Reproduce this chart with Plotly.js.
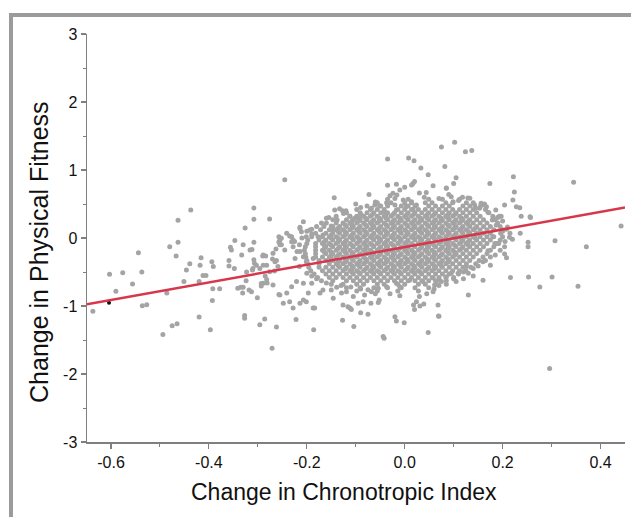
<!DOCTYPE html>
<html>
<head>
<meta charset="utf-8">
<script src="https://cdn.plot.ly/plotly-3.0.1.min.js"></script>
<style>
  html, body { margin: 0; padding: 0; background: #ffffff; }
  #wrap { position: relative; width: 631px; height: 517px; overflow: hidden; }
  #chart { position: absolute; left: 0; top: 0; width: 631px; height: 517px; }
  #frame { position: absolute; left: 9px; top: 13px; width: 700px; height: 600px;
           border-left: 4px solid #9b9b9b; border-top: 4px solid #9b9b9b; pointer-events: none; }
</style>
</head>
<body>
<div id="wrap"><div id="chart"></div><div id="frame"></div></div>
<script>
// ---- Data ----
const xTickVals = [-0.6, -0.4, -0.2, 0.0, 0.2, 0.4];
const xTickText = ["-0.6", "-0.4", "-0.2", "0.0", "0.2", "0.4"];
const yTickVals = [-3, -2, -1, 0, 1, 2, 3];
const yTickText = ["-3", "-2", "-1", "0", "1", "2", "3"];
const xTitle = "Change in Chronotropic Index";
const yTitle = "Change in Physical Fitness";

// Regression line end points
const fitX = [-0.649, 0.45];
const fitY = [-0.976, 0.45];

// Highlighted (black) point
const markX = [-0.604];
const markY = [-0.951];

// Scattered points read individually [x, y]
const leftPts = [[-0.637,-1.078],[-0.603,-0.534],[-0.59,-0.784],[-0.576,-0.51],[-0.556,-0.676],[-0.544,-0.216],[-0.537,-0.5],[-0.536,-0.995],[-0.527,-0.98],[-0.494,-1.42],[-0.486,-0.81],[-0.48,-0.128],[-0.475,-1.29],[-0.465,-1.26],[-0.467,-0.265],[-0.463,-0.063],[-0.463,0.26],[-0.437,0.41],[-0.451,-0.64],[-0.446,-0.47],[-0.439,-0.38],[-0.42,-1.16],[-0.42,-0.64],[-0.418,-0.4],[-0.416,-0.29],[-0.412,-0.55],[-0.406,-0.55],[-0.397,-1.35],[-0.394,-0.35],[-0.391,-0.42],[-0.392,-0.745],[-0.393,-0.92],[-0.378,-0.745],[-0.359,-0.33],[-0.359,-0.41],[-0.356,-0.137],[-0.354,-0.176],[-0.348,-0.45],[-0.347,-0.035],[-0.341,-0.74],[-0.335,-0.725],[-0.33,-0.725],[-0.331,-0.81],[-0.327,-1.14],[-0.327,-1.18],[-0.33,-0.1],[-0.333,-0.25],[-0.326,0.147],[-0.308,0.44],[-0.308,0.275],[-0.308,-0.064],[-0.316,-0.176],[-0.312,-0.17],[-0.308,-0.32],[-0.307,-0.37],[-0.31,-0.45],[-0.311,-0.47],[-0.323,-0.5],[-0.324,-0.63],[-0.318,-0.765],[-0.313,-0.79],[-0.301,-0.88],[-0.296,-1.275],[-0.286,-1.19],[-0.303,-0.4],[-0.296,-0.45],[-0.29,-0.265],[-0.284,-0.265],[-0.289,-0.4],[-0.293,-0.67],[-0.293,-0.705],[-0.285,-0.56],[-0.282,-0.61],[-0.281,-0.66],[-0.276,0.28],[-0.271,-1.62],[-0.269,-0.69],[-0.27,-0.31],[-0.263,-0.16],[-0.262,-0.33],[-0.257,0.02],[-0.257,-0.06],[-0.257,-0.83],[-0.262,-1.31],[-0.266,-0.485],[-0.245,0.857],[-0.207,0.24],[-0.214,0.14],[-0.241,0.07],[-0.255,-0.03],[-0.231,0.02],[-0.194,0.118],[-0.289,-0.666],[-0.276,-0.495],[-0.259,-0.42],[-0.265,-0.35],[-0.282,-0.4],[-0.289,-0.25],[-0.269,-0.226],[-0.252,-0.1],[-0.245,-0.176],[-0.228,-0.128],[-0.231,-0.054],[-0.214,-0.2],[-0.207,-0.275],[-0.224,-0.3],[-0.201,-0.35],[-0.187,-0.3]];

const upperPts = [[-0.035,1.16],[0.008,1.176],[0.019,1.137],[-0.144,0.593],[-0.073,0.64],[-0.035,0.775],[-0.017,0.79],[0.017,0.8],[0.02,0.83],[0.014,0.78],[0.0,0.745],[-0.024,0.657],[-0.016,0.632],[-0.02,0.58],[-0.01,0.706],[-0.133,0.43],[-0.143,0.41],[-0.127,0.4],[-0.16,0.29],[-0.138,0.265],[-0.15,0.176],[-0.148,0.118],[-0.136,0.118],[-0.19,0.128],[-0.214,0.157],[-0.211,0.093],[-0.235,0.03],[-0.252,-0.005],[-0.228,-0.03],[-0.255,-0.1],[-0.201,0.02],[-0.177,0.02],[-0.167,0.044],[-0.112,0.32],[-0.102,0.29],[-0.088,0.333],[-0.078,0.275],[-0.068,0.437],[-0.061,0.485],[-0.051,0.47],[-0.041,0.387],[-0.037,0.52],[-0.02,0.485],[-0.017,0.41],[-0.003,0.56],[0.003,0.46],[0.014,0.534],[0.017,0.42],[0.024,0.485]];

const rightPts = [[0.075,1.34],[0.102,1.407],[0.124,1.27],[0.137,1.285],[0.082,1.05],[0.033,1.03],[0.048,0.93],[0.058,0.77],[0.1,0.8],[0.105,0.887],[0.174,0.8],[0.222,0.9],[0.224,0.676],[0.345,0.82],[0.044,0.67],[0.085,0.73],[0.129,0.59],[0.156,0.51],[0.163,0.485],[0.153,0.437],[0.186,0.41],[0.192,0.313],[0.197,0.32],[0.204,0.485],[0.221,0.56],[0.228,0.46],[0.235,0.446],[0.256,0.313],[0.238,0.32],[0.208,0.128],[0.236,0.07],[0.214,0.01],[0.252,-0.064],[0.252,-0.128],[0.307,-0.04],[0.371,-0.128],[0.442,0.176],[0.204,-0.128],[0.192,-0.08],[0.18,0.02],[0.085,0.735],[0.095,0.607],[0.099,0.534],[0.133,0.584],[0.143,0.485],[0.163,0.5],[0.167,0.46],[0.194,0.32],[0.179,0.265],[0.187,0.19],[0.257,0.3],[0.208,-0.29],[0.204,-0.235],[0.216,-0.58],[0.253,-0.574],[0.301,-0.574],[0.276,-0.72],[0.354,-0.71],[0.16,-0.62],[0.13,-0.84],[0.15,-0.41],[0.184,-0.08],[0.17,-0.186],[0.126,-0.42],[0.109,-0.52],[0.105,-0.64],[0.068,-0.985],[0.07,-1.15],[0.048,-1.39],[0.02,-1.05],[0.031,-1.0],[0.039,-0.97],[0.058,-0.79],[0.061,-0.69],[0.075,-0.64],[0.085,-0.57],[0.095,-0.52],[0.16,-0.35],[0.14,-0.45],[0.175,-0.28],[0.12,-0.6],[0.13,-0.52]];

const lowerPts = [[0.296,-1.92],[-0.042,-1.475],[-0.044,-1.45],[-0.186,-1.35],[-0.127,-1.21],[-0.104,-1.3],[-0.02,-1.157],[-0.017,-1.22],[-0.001,-1.245],[0.069,-1.147],[0.018,-0.985],[0.024,-0.937],[-0.09,-1.1],[-0.075,-1.12],[-0.109,-1.05],[-0.069,-0.96],[-0.054,-0.95],[-0.052,-0.91],[-0.085,-0.937],[-0.095,-0.96],[-0.116,-1.01],[-0.126,-0.985],[-0.201,-0.937],[-0.187,-1.03],[-0.184,-1.03],[-0.15,-0.765],[-0.139,-0.725],[-0.129,-0.81],[-0.119,-0.79],[-0.105,-0.86],[-0.082,-0.84],[-0.068,-0.79],[-0.054,-0.74],[-0.037,-0.716],[-0.017,-0.666],[-0.01,-0.716],[0.01,-0.62],[0.037,-0.64],[0.058,-0.59],[0.071,-0.62],[-0.222,-1.2],[-0.112,-1.03],[-0.146,-0.887],[-0.207,-0.91],[-0.214,-0.96],[-0.228,-1.03],[-0.235,-0.937],[-0.248,-0.96],[-0.255,-0.84],[-0.241,-0.81],[-0.231,-0.716],[-0.221,-0.64],[-0.207,-0.666],[-0.197,-0.81],[-0.19,-0.666],[-0.173,-0.81],[-0.167,-0.765]];

// Points along the ragged rim of the dense cloud
const rimPts = [[-0.12,0.4],[-0.09,0.45],[-0.06,0.53],[0.04,0.6],[0.07,0.58],[0.11,0.55],[0.14,0.52],[0.17,0.38],[0.2,0.25],[0.21,0.16],[0.215,0.07],[0.2,0.1],[0.205,-0.05],[0.195,-0.18],[0.185,-0.25],[0.165,-0.33],[0.12,-0.5],[0.1,-0.6],[0.085,-0.68],[0.06,-0.75],[0.045,-0.82],[0.03,-0.86],[-0.01,-0.85],[-0.03,-0.82],[-0.06,-0.82],[-0.09,-0.75],[-0.11,-0.72],[-0.13,-0.7],[-0.16,-0.66],[-0.18,-0.6],[-0.2,-0.52],[-0.215,-0.42],[-0.22,-0.2],[-0.215,-0.1],[-0.21,0.0],[-0.19,0.06],[-0.18,0.17],[-0.17,0.22],[-0.155,0.3],[-0.125,0.36],[0.118,0.6],[0.145,0.44],[0.19,0.3],[0.22,-0.02],[0.175,-0.4],[0.14,-0.56],[0.07,-0.7],[-0.075,-0.76],[-0.19,-0.56],[-0.225,-0.05],[-0.2,0.1],[-0.1,0.5],[0.03,0.66],[-0.03,0.62],[0.09,0.64]];

// Dense central cloud, read row by row (y of the row, x positions along it)
const coreRowY = [0.57, 0.52, 0.47, 0.42, 0.37, 0.32, 0.27, 0.22, 0.17, 0.12, 0.07, 0.02, -0.03, -0.08, -0.13, -0.18, -0.23, -0.28, -0.33, -0.38, -0.43, -0.48, -0.53, -0.58, -0.63, -0.68, -0.73, -0.78];
const coreRowX = [
  [-0.035, 0.007, 0.049, 0.077, 0.112],
  [-0.056, -0.028, 0.0, 0.014, 0.042, 0.056, 0.084, 0.098, 0.126],
  [-0.077, -0.049, -0.035, -0.007, 0.007, 0.021, 0.049, 0.063, 0.077, 0.091, 0.119, 0.133, 0.155],
  [-0.098, -0.07, -0.056, -0.042, -0.014, 0.0, 0.014, 0.028, 0.042, 0.056, 0.07, 0.084, 0.098, 0.112, 0.126, 0.14, 0.165],
  [-0.119, -0.091, -0.077, -0.063, -0.049, -0.035, -0.021, -0.007, 0.007, 0.021, 0.035, 0.049, 0.063, 0.077, 0.091, 0.105, 0.119, 0.133, 0.147, 0.172],
  [-0.14, -0.112, -0.098, -0.084, -0.07, -0.056, -0.042, -0.028, -0.014, 0.0, 0.014, 0.028, 0.042, 0.056, 0.07, 0.084, 0.098, 0.112, 0.126, 0.14, 0.154, 0.18],
  [-0.147, -0.119, -0.105, -0.091, -0.077, -0.063, -0.049, -0.035, -0.021, -0.007, 0.007, 0.021, 0.035, 0.049, 0.063, 0.077, 0.091, 0.105, 0.119, 0.133, 0.147, 0.161, 0.185],
  [-0.16, -0.14, -0.126, -0.112, -0.098, -0.084, -0.07, -0.056, -0.042, -0.028, -0.014, 0.0, 0.014, 0.028, 0.042, 0.056, 0.07, 0.084, 0.098, 0.112, 0.126, 0.14, 0.154, 0.168, 0.19],
  [-0.165, -0.147, -0.133, -0.119, -0.105, -0.091, -0.077, -0.063, -0.049, -0.035, -0.021, -0.007, 0.007, 0.021, 0.035, 0.049, 0.063, 0.077, 0.091, 0.105, 0.119, 0.133, 0.147, 0.161, 0.175, 0.195],
  [-0.172, -0.154, -0.14, -0.126, -0.112, -0.098, -0.084, -0.07, -0.056, -0.042, -0.028, -0.014, 0.0, 0.014, 0.028, 0.042, 0.056, 0.07, 0.084, 0.098, 0.112, 0.126, 0.14, 0.154, 0.168, 0.182, 0.2],
  [-0.182, -0.161, -0.147, -0.133, -0.119, -0.105, -0.091, -0.077, -0.063, -0.049, -0.035, -0.021, -0.007, 0.007, 0.021, 0.035, 0.049, 0.063, 0.077, 0.091, 0.105, 0.119, 0.133, 0.147, 0.161, 0.175, 0.196],
  [-0.19, -0.168, -0.154, -0.14, -0.126, -0.112, -0.098, -0.084, -0.07, -0.056, -0.042, -0.028, -0.014, 0.0, 0.014, 0.028, 0.042, 0.056, 0.07, 0.084, 0.098, 0.112, 0.126, 0.14, 0.154, 0.168, 0.182, 0.2],
  [-0.198, -0.175, -0.161, -0.147, -0.133, -0.119, -0.105, -0.091, -0.077, -0.063, -0.049, -0.035, -0.021, -0.007, 0.007, 0.021, 0.035, 0.049, 0.063, 0.077, 0.091, 0.105, 0.119, 0.133, 0.147, 0.161, 0.175, 0.195],
  [-0.2, -0.182, -0.168, -0.154, -0.14, -0.126, -0.112, -0.098, -0.084, -0.07, -0.056, -0.042, -0.028, -0.014, 0.0, 0.014, 0.028, 0.042, 0.056, 0.07, 0.084, 0.098, 0.112, 0.126, 0.14, 0.154, 0.168, 0.188],
  [-0.203, -0.182, -0.161, -0.147, -0.133, -0.119, -0.105, -0.091, -0.077, -0.063, -0.049, -0.035, -0.021, -0.007, 0.007, 0.021, 0.035, 0.049, 0.063, 0.077, 0.091, 0.105, 0.119, 0.133, 0.147, 0.161, 0.182],
  [-0.205, -0.182, -0.168, -0.154, -0.14, -0.126, -0.112, -0.098, -0.084, -0.07, -0.056, -0.042, -0.028, -0.014, 0.0, 0.014, 0.028, 0.042, 0.056, 0.07, 0.084, 0.098, 0.112, 0.126, 0.14, 0.154, 0.175],
  [-0.203, -0.182, -0.161, -0.147, -0.133, -0.119, -0.105, -0.091, -0.077, -0.063, -0.049, -0.035, -0.021, -0.007, 0.007, 0.021, 0.035, 0.049, 0.063, 0.077, 0.091, 0.105, 0.119, 0.133, 0.147, 0.168],
  [-0.202, -0.182, -0.168, -0.154, -0.14, -0.126, -0.112, -0.098, -0.084, -0.07, -0.056, -0.042, -0.028, -0.014, 0.0, 0.014, 0.028, 0.042, 0.056, 0.07, 0.084, 0.098, 0.112, 0.126, 0.14, 0.16],
  [-0.2, -0.175, -0.161, -0.147, -0.133, -0.119, -0.105, -0.091, -0.077, -0.063, -0.049, -0.035, -0.021, -0.007, 0.007, 0.021, 0.035, 0.049, 0.063, 0.077, 0.091, 0.105, 0.119, 0.133, 0.152],
  [-0.198, -0.175, -0.154, -0.14, -0.126, -0.112, -0.098, -0.084, -0.07, -0.056, -0.042, -0.028, -0.014, 0.0, 0.014, 0.028, 0.042, 0.056, 0.07, 0.084, 0.098, 0.112, 0.126, 0.145],
  [-0.196, -0.175, -0.161, -0.147, -0.133, -0.119, -0.105, -0.091, -0.077, -0.063, -0.049, -0.035, -0.021, -0.007, 0.007, 0.021, 0.035, 0.049, 0.063, 0.077, 0.091, 0.105, 0.119, 0.135],
  [-0.192, -0.168, -0.154, -0.14, -0.126, -0.112, -0.098, -0.084, -0.07, -0.056, -0.042, -0.028, -0.014, 0.0, 0.014, 0.028, 0.042, 0.056, 0.07, 0.084, 0.098, 0.112, 0.125],
  [-0.185, -0.161, -0.147, -0.133, -0.119, -0.105, -0.091, -0.077, -0.063, -0.049, -0.035, -0.021, -0.007, 0.007, 0.021, 0.035, 0.049, 0.063, 0.077, 0.091, 0.11],
  [-0.178, -0.154, -0.14, -0.126, -0.112, -0.098, -0.084, -0.07, -0.056, -0.042, -0.028, -0.014, 0.0, 0.014, 0.028, 0.042, 0.056, 0.07, 0.084, 0.1],
  [-0.17, -0.147, -0.119, -0.105, -0.091, -0.077, -0.063, -0.049, -0.035, -0.021, -0.007, 0.007, 0.021, 0.035, 0.049, 0.063, 0.085],
  [-0.15, -0.126, -0.098, -0.084, -0.056, -0.042, -0.014, 0.0, 0.028, 0.042, 0.065],
  [-0.119, -0.091, -0.063, -0.035, -0.007, 0.021, 0.049],
  [-0.098, -0.056, -0.014, 0.028]
];

// Densest middle of the cloud, read between the rows above
const innerRowY = [0.345, 0.295, 0.245, 0.195, 0.145, 0.095, 0.045, -0.005, -0.055, -0.105, -0.155, -0.205, -0.255, -0.305, -0.355, -0.405, -0.455, -0.505];
const innerRowX = [
  [-0.066, -0.038, -0.024, 0.004, 0.018, 0.046, 0.06, 0.088, 0.102],
  [-0.094, -0.08, -0.052, -0.038, -0.01, 0.004, 0.032, 0.046, 0.074, 0.088, 0.116],
  [-0.108, -0.094, -0.066, -0.052, -0.024, -0.01, 0.018, 0.032, 0.06, 0.074, 0.102, 0.116, 0.13],
  [-0.122, -0.108, -0.08, -0.066, -0.038, -0.024, 0.004, 0.018, 0.046, 0.06, 0.088, 0.102, 0.13],
  [-0.136, -0.108, -0.094, -0.066, -0.052, -0.024, -0.01, 0.018, 0.032, 0.06, 0.074, 0.102, 0.116, 0.144],
  [-0.136, -0.122, -0.094, -0.08, -0.052, -0.038, -0.01, 0.004, 0.032, 0.046, 0.074, 0.088, 0.116, 0.13],
  [-0.15, -0.122, -0.108, -0.08, -0.066, -0.038, -0.024, 0.004, 0.018, 0.046, 0.06, 0.088, 0.102, 0.13, 0.144],
  [-0.15, -0.136, -0.108, -0.094, -0.066, -0.052, -0.024, -0.01, 0.018, 0.032, 0.06, 0.074, 0.102, 0.116, 0.144],
  [-0.164, -0.136, -0.122, -0.094, -0.08, -0.052, -0.038, -0.01, 0.004, 0.032, 0.046, 0.074, 0.088, 0.116, 0.13],
  [-0.164, -0.15, -0.122, -0.108, -0.08, -0.066, -0.038, -0.024, 0.004, 0.018, 0.046, 0.06, 0.088, 0.102, 0.13],
  [-0.164, -0.136, -0.122, -0.094, -0.08, -0.052, -0.038, -0.01, 0.004, 0.032, 0.046, 0.074, 0.088, 0.116],
  [-0.164, -0.15, -0.122, -0.108, -0.08, -0.066, -0.038, -0.024, 0.004, 0.018, 0.046, 0.06, 0.088, 0.102],
  [-0.15, -0.136, -0.108, -0.094, -0.066, -0.052, -0.024, -0.01, 0.018, 0.032, 0.06, 0.074, 0.102],
  [-0.15, -0.122, -0.108, -0.08, -0.066, -0.038, -0.024, 0.004, 0.018, 0.046, 0.06, 0.088],
  [-0.136, -0.122, -0.094, -0.08, -0.052, -0.038, -0.01, 0.004, 0.032, 0.046, 0.074, 0.088],
  [-0.136, -0.108, -0.094, -0.066, -0.052, -0.024, -0.01, 0.018, 0.032, 0.06, 0.074],
  [-0.122, -0.108, -0.08, -0.066, -0.038, -0.024, 0.004, 0.018, 0.046, 0.06],
  [-0.108, -0.094, -0.066, -0.052, -0.024, -0.01, 0.018, 0.032]
];

// ---- Build traces ----
const scatterX = [], scatterY = [];
[leftPts, upperPts, rightPts, lowerPts, rimPts].forEach(function (group) {
  group.forEach(function (p) { scatterX.push(p[0]); scatterY.push(p[1]); });
});
coreRowY.forEach(function (yv, i) {
  coreRowX[i].forEach(function (xv) { scatterX.push(xv); scatterY.push(yv); });
});
innerRowY.forEach(function (yv, i) {
  innerRowX[i].forEach(function (xv) { scatterX.push(xv); scatterY.push(yv); });
});

const FONT = "Liberation Sans, Arial, sans-serif";
const traces = [
  { type: "scatter", mode: "markers", x: scatterX, y: scatterY,
    marker: { color: "#a4a4a4", size: 5, line: { width: 0 } }, hoverinfo: "skip", showlegend: false },
  { type: "scatter", mode: "markers", x: markX, y: markY,
    marker: { color: "#111111", size: 4 }, hoverinfo: "skip", showlegend: false },
  { type: "scatter", mode: "lines", x: fitX, y: fitY,
    line: { color: "#d8374b", width: 2.5 }, hoverinfo: "skip", showlegend: false }
];

const axisCommon = {
  showgrid: false, zeroline: false, showline: true, linecolor: "#7f7f7f", linewidth: 1.5,
  ticks: "outside", ticklen: 5, tickwidth: 1.2, tickcolor: "#7f7f7f",
  tickfont: { family: FONT, size: 16, color: "#111111" }
};

const layout = {
  width: 631, height: 517,
  margin: { l: 87, r: 6, t: 34, b: 75, pad: 0 },
  paper_bgcolor: "rgba(0,0,0,0)", plot_bgcolor: "rgba(0,0,0,0)",
  showlegend: false,
  xaxis: Object.assign({}, axisCommon, {
    range: [-0.649, 0.45], tickmode: "array", tickvals: xTickVals, ticktext: xTickText,
    minor: { dtick: 0.1, ticks: "outside", ticklen: 3, tickcolor: "#7f7f7f", tickwidth: 1 }
  }),
  yaxis: Object.assign({}, axisCommon, {
    range: [-3, 3], tickmode: "array", tickvals: yTickVals, ticktext: yTickText,
    minor: { dtick: 0.5, ticks: "outside", ticklen: 3, tickcolor: "#7f7f7f", tickwidth: 1 }
  }),
  annotations: [
    { text: xTitle, xref: "paper", yref: "paper", x: 0.477, y: -0.1225,
      xanchor: "center", yanchor: "middle", showarrow: false,
      font: { family: FONT, size: 23, color: "#111111" } },
    { text: yTitle, xref: "paper", yref: "paper", x: -0.0883, y: 0.467, textangle: -90,
      xanchor: "center", yanchor: "middle", showarrow: false,
      font: { family: FONT, size: 25, color: "#111111" } }
  ]
};

Plotly.newPlot("chart", traces, layout, { staticPlot: true, displayModeBar: false });
</script>
</body>
</html>
